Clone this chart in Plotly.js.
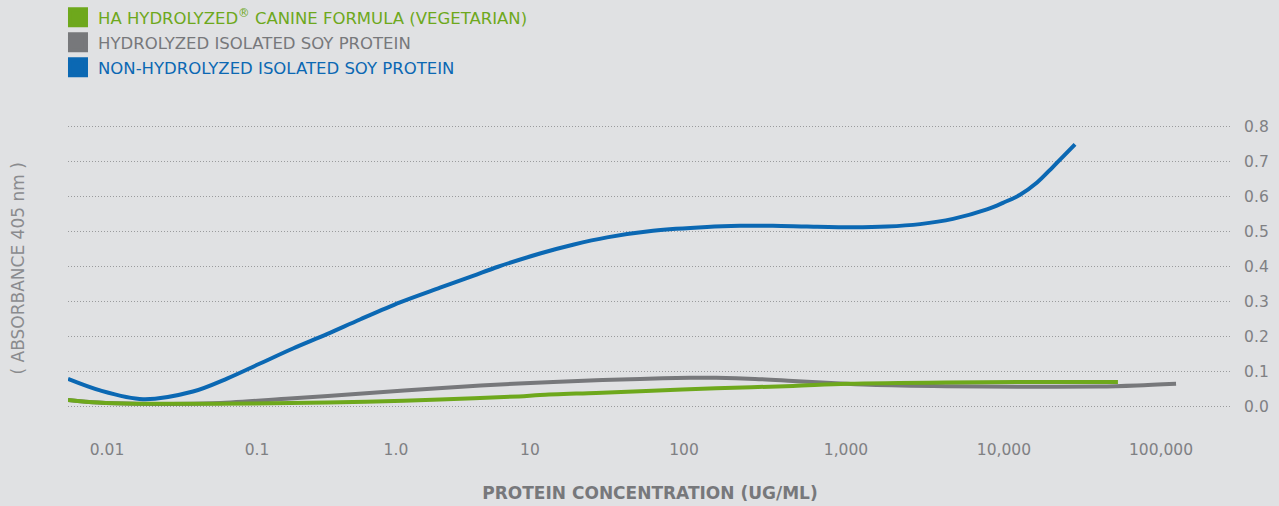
<!DOCTYPE html>
<html>
<head>
<meta charset="utf-8">
<script src="https://cdn.plot.ly/plotly-3.0.1.min.js"></script>
<style>
  html, body { margin: 0; padding: 0; background: #e0e1e3; }
  #chart { width: 1279px; height: 506px; }
</style>
</head>
<body>
<div id="chart"></div>
<script>
// Tick labels of the concentration axis (ug/mL) and where they sit on the axis (log10 scale as drawn)
const tickLabels = ['0.01', '0.1', '1.0', '10', '100', '1,000', '10,000', '100,000'];
const tickPos    = [-2, -1.004, -0.081, 0.809, 1.832, 2.908, 3.957, 5.0];

const yTickVals  = [0, 0.1, 0.2, 0.3, 0.4, 0.5, 0.6, 0.7, 0.8];
const yTickText  = ['0.0', '0.1', '0.2', '0.3', '0.4', '0.5', '0.6', '0.7', '0.8'];

const seriesNames = [
  'HA HYDROLYZED<sup>®</sup> CANINE FORMULA (VEGETARIAN)',
  'HYDROLYZED ISOLATED SOY PROTEIN',
  'NON-HYDROLYZED ISOLATED SOY PROTEIN'
];

// HA Hydrolyzed canine formula (vegetarian)
const haX = [-2.259, -2.060, -1.801, -1.296, -0.785, -0.280, 0.212, 0.736, 0.876, 1.248, 1.540, 2.045, 2.556, 2.915, 3.572, 4.084, 4.714];
const haY = [0.019, 0.0115, 0.008, 0.008, 0.010, 0.0135, 0.020, 0.029, 0.033, 0.039, 0.044, 0.052, 0.059, 0.065, 0.069, 0.070, 0.070];

// Hydrolyzed isolated soy protein
const hydX = [-2.259, -2.060, -1.801, -1.296, -0.785, -0.280, 0.225, 0.736, 1.248, 1.540, 1.872, 2.045, 2.304, 2.556, 2.808, 3.067, 3.572, 4.084, 4.588, 4.841, 5.100];
const hydY = [0.019, 0.0115, 0.008, 0.009, 0.023, 0.038, 0.053, 0.066, 0.075, 0.079, 0.082, 0.082, 0.079, 0.073, 0.067, 0.062, 0.058, 0.0565, 0.057, 0.060, 0.065];

// Non-hydrolyzed isolated soy protein
const nonX = [-2.259, -2.046, -1.761, -1.429, -1.203, -0.984, -0.765, -0.539, -0.320, -0.054, 0.212, 0.431, 0.597, 0.876, 1.095, 1.321, 1.626, 1.985, 2.204, 2.423, 2.649, 2.955, 3.180, 3.400, 3.619, 3.844, 3.951, 4.064, 4.177, 4.283, 4.429];
const nonY = [0.079, 0.046, 0.021, 0.043, 0.080, 0.123, 0.166, 0.207, 0.249, 0.298, 0.340, 0.374, 0.400, 0.438, 0.463, 0.484, 0.503, 0.514, 0.517, 0.517, 0.515, 0.513, 0.515, 0.522, 0.537, 0.564, 0.583, 0.606, 0.641, 0.686, 0.750];

const colors = ['#6ea81c', '#77787b', '#0b68b3'];
const FONT = 'DejaVu Sans, Verdana, sans-serif';
const TXT = '#7f8083';

const curves = [[haX, haY], [hydX, hydY], [nonX, nonY]];
const drawOrder = [1, 0, 2];
const traces = [];
drawOrder.forEach(i => {
  const c = curves[i];
  traces.push({
    type: 'scatter', mode: 'lines', x: c[0], y: c[1],
    name: seriesNames[i], showlegend: false, hoverinfo: 'x+y',
    line: { color: colors[i], width: 4, shape: 'spline', smoothing: 0.9 }
  });
});
// legend entries (square swatches, text in the series colour)
seriesNames.forEach((n, i) => {
  traces.push({
    type: 'scatter', mode: 'markers', x: [null], y: [null],
    name: '<span style="color:' + colors[i] + '">' + n + '</span>',
    marker: { symbol: 'square', size: 16, color: colors[i], line: { color: colors[i], width: 4 } },
    legendgroup: 'g' + i,
    legendrank: i + 1
  });
});

const layout = {
  width: 1279, height: 506,
  paper_bgcolor: '#e0e1e3', plot_bgcolor: '#e0e1e3',
  margin: { l: 68, r: 47, t: 120, b: 89, pad: 0 },
  font: { family: FONT, color: TXT, size: 15 },
  showlegend: true,
  legend: {
    xref: 'paper', x: -0.0086, xanchor: 'left',
    yref: 'container', y: 1, yanchor: 'top',
    bgcolor: 'rgba(0,0,0,0)', borderwidth: 0,
    font: { family: FONT, size: 16.5, color: TXT },
    traceorder: 'grouped', tracegroupgap: 0.5
  },
  xaxis: {
    type: 'linear', range: [-2.259, 5.4716], automargin: false,
    tickmode: 'array', tickvals: tickPos, ticktext: tickLabels,
    showgrid: false, zeroline: false, showline: false,
    ticks: 'outside', ticklen: 18, tickcolor: 'rgba(0,0,0,0)',
    tickfont: { family: FONT, size: 15.5, color: TXT },
    title: { text: 'PROTEIN CONCENTRATION (UG/ML)', standoff: 29,
             font: { family: FONT, size: 17, color: '#77787b', weight: 'bold' } },
    fixedrange: true
  },
  yaxis: {
    side: 'right', range: [-0.03, 0.82], automargin: false,
    tickmode: 'array', tickvals: yTickVals, ticktext: yTickText,
    showgrid: true, gridcolor: '#9a9b9d', gridwidth: 1, griddash: '1px,2px',
    zeroline: false, showline: false,
    ticks: 'outside', ticklen: 8, tickcolor: 'rgba(0,0,0,0)',
    tickfont: { family: FONT, size: 15.5, color: TXT },
    fixedrange: true
  },
  annotations: [{
    text: '( ABSORBANCE 405 nm )', textangle: -90,
    xref: 'paper', yref: 'paper', x: -0.043, y: 0.5, xanchor: 'center', yanchor: 'middle',
    showarrow: false, font: { family: FONT, size: 17, color: '#8a8b8e' }
  }]
};

Plotly.newPlot('chart', traces, layout, { displayModeBar: false, staticPlot: true });
</script>
</body>
</html>
